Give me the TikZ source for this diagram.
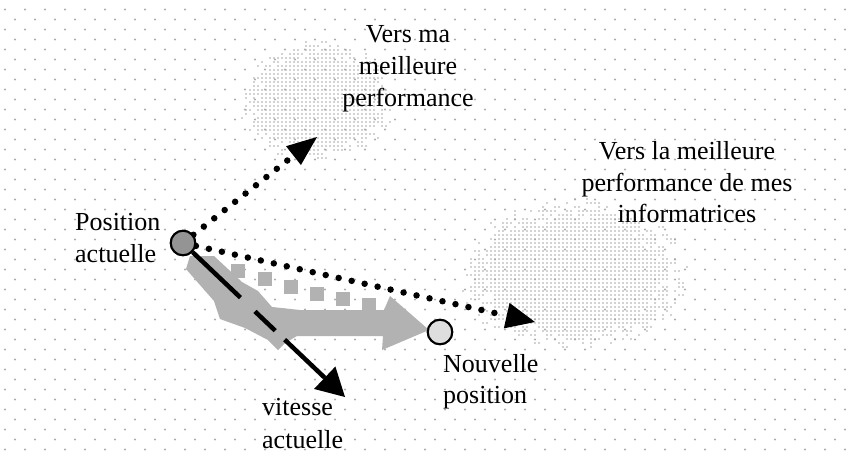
\documentclass[tikz,border=0pt]{standalone}
\usepackage{fontspec}
\setmainfont{Liberation Serif}
\usetikzlibrary{calc}
\begin{document}
\begin{tikzpicture}[x=1pt,y=-1pt,
  bgdot/.style={fill=black!33},
  blobdot/.style={fill=black!35},
  lbl/.style={inner sep=0pt, font=\fontsize{26}{32}\selectfont},
  dotline/.style={line width=6.5pt, line cap=round, dash pattern=on 0pt off 13.3pt},
  posnode/.style={circle, draw=black, line width=2pt, minimum size=24.5pt, inner sep=0pt},
  graypart/.style={fill=black!30}]
\useasboundingbox (0,0) rectangle (847,459);
\fill[white] (0,0) rectangle (847,459);
% background dot grid
\foreach \j in {1,...,45}{
  \pgfmathsetmacro\bOff{mod(\j,2)==1 ? 5 : 15}
  \foreach \i in {0,...,42}{
    \fill[bgdot] (\bOff+20*\i, 10*\j-0.5) circle[radius=1.1pt];
  }
}
\pgfmathsetseed{7}
% blob near personal best
\foreach \i in {0,...,40}{
  \foreach \j in {0,...,32}{
    \pgfmathsetmacro\bPx{238+4*\i}
    \pgfmathsetmacro\bPy{38+4*\j}
    \pgfmathsetmacro\bR{((\bPx-317)/78)^2+((\bPy-101)/61)^2}
    \pgfmathsetmacro\bT{0.5+0.55*rnd}
    \ifdim\bR pt<\bT pt \fill[blobdot] (\bPx,\bPy) circle[radius=0.95pt];\fi
  }
}
% blob near global best
\foreach \i in {0,...,60}{
  \foreach \j in {0,...,40}{
    \pgfmathsetmacro\bPx{455+4*\i}
    \pgfmathsetmacro\bPy{195+4*\j}
    \pgfmathsetmacro\bR{((\bPx-575)/116)^2+((\bPy-275)/77)^2}
    \pgfmathsetmacro\bT{0.5+0.55*rnd}
    \ifdim\bR pt<\bT pt \fill[blobdot] (\bPx,\bPy) circle[radius=0.95pt];\fi
  }
}
% position nodes
\node[posnode, fill=black!42] (cur) at (183,243) {};
\node[posnode, fill=black!13] (new) at (440,332) {};
% gray resulting move
\fill[graypart] (190,256) -- (214,256) -- (242,282) -- (258,291) -- (272,307)
  -- (300,310) -- (384,310) -- (390,296) -- (429,330) -- (382,350) -- (383,336)
  -- (297,336) -- (285,343) -- (278,350) -- (268,340) -- (245,328) -- (220,319)
  -- (214,301) -- (186,269) -- cycle;
\foreach \sx/\sy in {238/271, 265/279, 291/287, 317/294, 343/299, 369/305}{
  \fill[graypart] (\sx-7,\sy-7) rectangle (\sx+7,\sy+7);
}
% tips
\coordinate (t1) at (317,137);
\coordinate (t2) at (535,322);
\coordinate (t3) at (345,397);
\coordinate (b1) at ($(t1)!30pt!(cur.center)$);
\coordinate (b2) at ($(t2)!29pt!(cur.center)$);
\coordinate (b3) at ($(t3)!28pt!(cur.center)$);
% velocity
\draw[line width=4.5pt, dash pattern=on 66pt off 20pt on 28pt off 13pt on 400pt] (cur) -- (b3);
\fill ($(b3)!15.5pt!90:(t3)$) -- (t3) -- ($(b3)!15.5pt!-90:(t3)$) -- cycle;
% toward personal best
\draw[dotline] (cur) -- (b1);
\fill ($(b1)!12pt!90:(t1)$) -- (t1) -- ($(b1)!12pt!-90:(t1)$) -- cycle;
% toward global best
\draw[dotline] (cur) -- (b2);
\fill ($(b2)!13pt!90:(t2)$) -- (t2) -- ($(b2)!13pt!-90:(t2)$) -- cycle;
% redraw nodes on top
\node[posnode, fill=black!42] at (cur) {};
\node[posnode, fill=black!13] at (new) {};
% labels
\node[lbl, anchor=base] (pb1) at (408,42) {Vers ma};
\node[lbl, anchor=base] (pb2) at (408,74) {meilleure};
\node[lbl, anchor=base] (pb3) at (408,106) {performance};
\node[lbl, anchor=base] (gb1) at (687,159) {Vers la meilleure};
\node[lbl, anchor=base] (gb2) at (687,191) {performance de mes};
\node[lbl, anchor=base] (gb3) at (687,222) {informatrices};
\node[lbl, anchor=base west] (pa1) at (75,230) {Position};
\node[lbl, anchor=base west] (pa2) at (75,262) {actuelle};
\node[lbl, anchor=base west] (va1) at (262,415) {vitesse};
\node[lbl, anchor=base west] (va2) at (262,448) {actuelle};
\node[lbl, anchor=base west] (np1) at (443,372) {Nouvelle};
\node[lbl, anchor=base west] (np2) at (443,403) {position};
\end{tikzpicture}
\end{document}
